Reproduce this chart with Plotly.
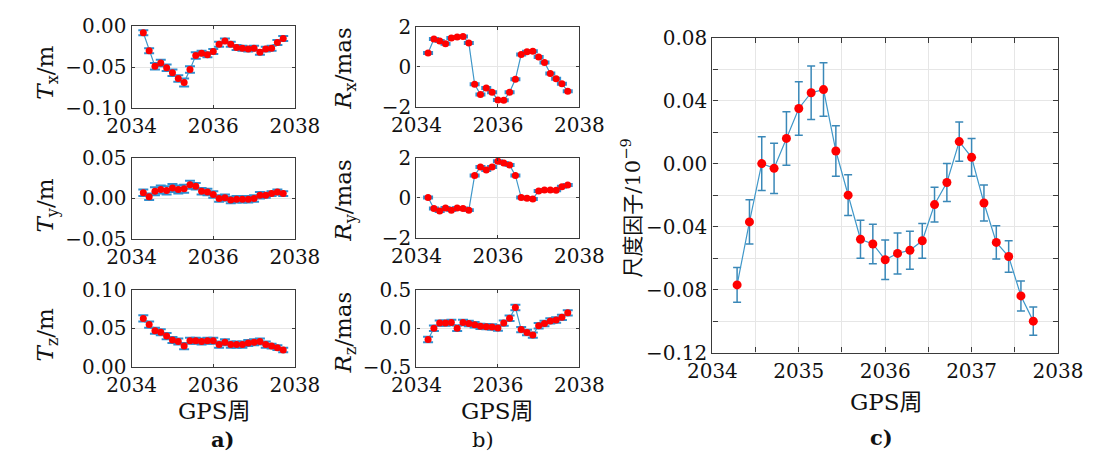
import plotly.graph_objects as go

# ---------------- data ----------------
gps_week = [2034.286, 2034.429, 2034.571, 2034.714, 2034.857, 2035.000, 2035.143,
            2035.286, 2035.429, 2035.571, 2035.714, 2035.857, 2036.000, 2036.143,
            2036.286, 2036.429, 2036.571, 2036.714, 2036.857, 2037.000, 2037.143,
            2037.286, 2037.429, 2037.571, 2037.714]

tx = [-0.008, -0.030, -0.049, -0.045, -0.051, -0.057, -0.064, -0.069, -0.053, -0.036,
      -0.033, -0.035, -0.031, -0.022, -0.018, -0.022, -0.026, -0.027, -0.028, -0.027,
      -0.032, -0.028, -0.027, -0.020, -0.015]
tx_err = [0.003, 0.003, 0.004, 0.004, 0.004, 0.004, 0.004, 0.005, 0.004, 0.004,
          0.003, 0.003, 0.003, 0.003, 0.003, 0.003, 0.003, 0.003, 0.003, 0.003,
          0.003, 0.003, 0.003, 0.003, 0.003]

ty = [0.007, 0.002, 0.009, 0.011, 0.010, 0.013, 0.011, 0.012, 0.017, 0.015,
      0.009, 0.008, 0.005, 0.000, 0.001, -0.002, -0.001, -0.001, -0.001, 0.000,
      0.004, 0.004, 0.006, 0.008, 0.006]
ty_err = [0.004, 0.004, 0.005, 0.005, 0.005, 0.005, 0.005, 0.005, 0.005, 0.004,
          0.004, 0.004, 0.004, 0.004, 0.004, 0.004, 0.004, 0.004, 0.004, 0.004,
          0.004, 0.003, 0.003, 0.003, 0.003]

tz = [0.063, 0.055, 0.047, 0.045, 0.040, 0.035, 0.033, 0.027, 0.034, 0.034,
      0.033, 0.034, 0.034, 0.029, 0.032, 0.029, 0.029, 0.029, 0.031, 0.032,
      0.033, 0.029, 0.027, 0.025, 0.022]
tz_err = [0.004, 0.004, 0.004, 0.004, 0.004, 0.004, 0.004, 0.004, 0.004, 0.004,
          0.004, 0.004, 0.004, 0.004, 0.004, 0.004, 0.004, 0.004, 0.004, 0.004,
          0.004, 0.004, 0.003, 0.003, 0.003]

rx = [0.70, 1.40, 1.29, 1.16, 1.44, 1.49, 1.52, 1.19, -0.87, -1.38,
      -1.06, -1.27, -1.65, -1.67, -1.27, -0.62, 0.62, 0.76, 0.78, 0.49,
      0.22, -0.33, -0.59, -0.84, -1.22]
rx_err = [0.05] * 25

ry = [0.02, -0.53, -0.65, -0.50, -0.61, -0.50, -0.53, -0.61, 1.13, 1.56,
      1.40, 1.55, 1.84, 1.76, 1.65, 1.13, 0.02, -0.02, -0.05, 0.35,
      0.40, 0.40, 0.39, 0.56, 0.65]
ry_err = [0.05] * 25

rz = [-0.145, 0.000, 0.067, 0.067, 0.075, 0.000, 0.075, 0.063, 0.046, 0.025,
      0.021, 0.017, 0.004, 0.067, 0.130, 0.270, -0.017, -0.054, -0.088, 0.033,
      0.063, 0.096, 0.108, 0.142, 0.200]
rz_err = [0.035] * 25

scale = [-0.077, -0.037, 0.000, -0.003, 0.016, 0.035, 0.045, 0.047, 0.008, -0.020,
         -0.048, -0.051, -0.061, -0.057, -0.055, -0.049, -0.026, -0.012, 0.014, 0.004,
         -0.025, -0.050, -0.059, -0.084, -0.100]
scale_err = [0.011, 0.014, 0.017, 0.016, 0.017, 0.017, 0.017, 0.017, 0.016, 0.013,
             0.012, 0.0125, 0.0125, 0.013, 0.012, 0.011, 0.011, 0.012, 0.0125, 0.012,
             0.0115, 0.0105, 0.010, 0.0095, 0.009]

# ---------------- styling ----------------
W, H = 1104, 469
SERIF = "DejaVu Serif, Noto Sans CJK SC"
LINE_C = "#3f97c9"
ERR_C = "#2f8fd0"
ERR_C_BIG = "#3a88b8"
MARK_C = "#ff0000"
AX_C = "#3a3a3a"
GRID_C = "#e6e6e6"
TXT_C = "#111111"
TICK_SIZE = 20


def xdom(x0, x1):
    return [x0 / W, x1 / W]


def ydom(y0, y1):
    return [1 - y1 / H, 1 - y0 / H]


fig = go.Figure()

small = [
    (tx, tx_err, 1, (111.7, 282.7), (15, 101), [-0.10, 0.00], 0.05, ".2f",
     "<i>T</i><sub>x</sub>/m", (23, 64)),
    (ty, ty_err, 2, (111.7, 282.7), (154, 239), [-0.05, 0.05], 0.05, ".2f",
     "<i>T</i><sub>y</sub>/m", (23, 204)),
    (tz, tz_err, 3, (111.7, 282.7), (293, 374), [0.0, 0.10], 0.05, ".2f",
     "<i>T</i><sub>z</sub>/m", (23, 340)),
    (rx, rx_err, 4, (410, 580.7), (15.7, 100), [-2, 2], 2, "d",
     "<i>R</i><sub>x</sub>/mas", (335, 60)),
    (ry, ry_err, 5, (410, 580.7), (154, 238), [-2, 2], 2, "d",
     "<i>R</i><sub>y</sub>/mas", (335, 198)),
    (rz, rz_err, 6, (410, 580.7), (292.7, 374), [-0.5, 0.5], 0.5, ".1f",
     "<i>R</i><sub>z</sub>/mas", (335, 338)),
]

annotations = []
for (yv, ev, i, xd, yd, rng, dt, fmt, title, tpos) in small:
    xa = "x" if i == 1 else f"x{i}"
    ya = "y" if i == 1 else f"y{i}"
    fig.add_trace(go.Scatter(
        x=gps_week, y=yv, xaxis=xa, yaxis=ya, mode="lines+markers",
        line=dict(color=LINE_C, width=1.2),
        marker=dict(color=MARK_C, size=7),
        error_y=dict(type="data", array=ev, visible=True, color=ERR_C,
                     thickness=2, width=5),
        showlegend=False, cliponaxis=False))
    xk = "xaxis" if i == 1 else f"xaxis{i}"
    yk = "yaxis" if i == 1 else f"yaxis{i}"
    fig.update_layout(**{
        xk: dict(domain=xdom(*xd), anchor=ya, range=[2034, 2038], dtick=2, tick0=2034,
                 showline=True, mirror="ticks", linecolor=AX_C, linewidth=1.3,
                 ticks="inside", ticklen=3, tickcolor=AX_C,
                 showgrid=True, gridcolor=GRID_C, gridwidth=1, zeroline=False,
                 tickfont=dict(family=SERIF, size=TICK_SIZE, color=TXT_C)),
        yk: dict(domain=ydom(*yd), anchor=xa, range=rng, dtick=dt, tick0=0,
                 tickformat=fmt,
                 showline=True, mirror="ticks", linecolor=AX_C, linewidth=1.3,
                 ticks="inside", ticklen=3, tickcolor=AX_C,
                 showgrid=True, gridcolor=GRID_C, gridwidth=1, zeroline=False,
                 tickfont=dict(family=SERIF, size=TICK_SIZE, color=TXT_C)),
    })
    annotations.append(dict(
        text=title, x=tpos[0] / W, y=1 - tpos[1] / H, xref="paper", yref="paper",
        xanchor="center", yanchor="middle", textangle=-90, showarrow=False,
        font=dict(family=SERIF, size=23, color=TXT_C)))

# big panel c
fig.add_trace(go.Scatter(
    x=gps_week, y=scale, xaxis="x7", yaxis="y7", mode="lines+markers",
    line=dict(color=LINE_C, width=1.2),
    marker=dict(color=MARK_C, size=9),
    error_y=dict(type="data", array=scale_err, visible=True, color=ERR_C_BIG,
                 thickness=1.5, width=4),
    showlegend=False, cliponaxis=False))
fig.update_layout(
    xaxis7=dict(domain=xdom(720, 1082), anchor="y7", range=[2034, 2038], dtick=1, tick0=2034,
                tickformat="d",
                showline=True, mirror="ticks", linecolor=AX_C, linewidth=1.3,
                ticks="inside", ticklen=5, tickcolor=AX_C,
                showgrid=True, gridcolor=GRID_C, zeroline=False,
                minor=dict(dtick=0.5, ticks="inside", ticklen=5, tickcolor=AX_C,
                           showgrid=True, gridcolor=GRID_C),
                tickfont=dict(family=SERIF, size=TICK_SIZE, color=TXT_C)),
    yaxis7=dict(domain=ydom(27, 359), anchor="x7", range=[-0.12, 0.08], dtick=0.04, tick0=0,
                tickformat=".2f",
                showline=True, mirror="ticks", linecolor=AX_C, linewidth=1.3,
                ticks="inside", ticklen=5, tickcolor=AX_C,
                showgrid=True, gridcolor=GRID_C, zeroline=False,
                minor=dict(dtick=0.02, ticks="inside", ticklen=5, tickcolor=AX_C,
                           showgrid=True, gridcolor=GRID_C),
                tickfont=dict(family=SERIF, size=TICK_SIZE, color=TXT_C)),
)

annotations.append(dict(
    text="尺度因子/10<sup>−9</sup>", x=635 / W, y=1 - 207 / H, xref="paper", yref="paper",
    xanchor="center", yanchor="middle", textangle=-90, showarrow=False,
    font=dict(family=SERIF, size=21, color=TXT_C)))

for (txt, px, py) in [("GPS周", 198, 421), ("GPS周", 495, 421), ("GPS周", 902, 411)]:
    annotations.append(dict(
        text=txt, x=px / W, y=1 - py / H, xref="paper", yref="paper",
        xanchor="center", yanchor="middle", showarrow=False,
        font=dict(family=SERIF, size=23, color=TXT_C)))

for (txt, px, py) in [("<b>a)</b>", 207, 451), ("b)", 480, 451), ("<b>c)</b>", 897, 448)]:
    annotations.append(dict(
        text=txt, x=px / W, y=1 - py / H, xref="paper", yref="paper",
        xanchor="center", yanchor="middle", showarrow=False,
        font=dict(family=SERIF, size=21, color=TXT_C)))

fig.update_layout(
    width=W, height=H, margin=dict(l=0, r=0, t=0, b=0),
    paper_bgcolor="white", plot_bgcolor="white",
    font=dict(family=SERIF, color=TXT_C),
    annotations=annotations,
)

fig.write_html("out.html")
